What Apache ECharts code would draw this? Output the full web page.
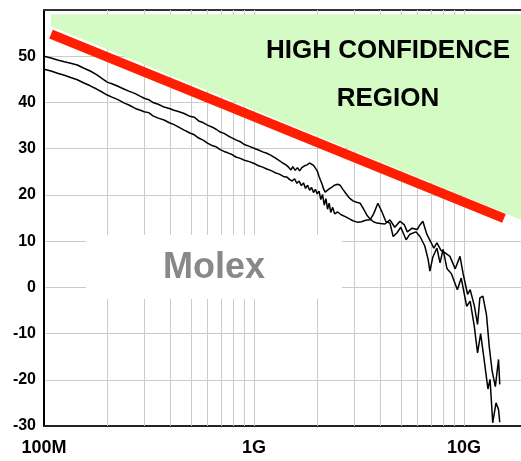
<!DOCTYPE html>
<html>
<head>
<meta charset="utf-8">
<script src="https://cdn.jsdelivr.net/npm/echarts@6/dist/echarts.min.js"></script>
<style>
html,body{margin:0;padding:0;background:#fff;}
#chart{width:521px;height:461px;}
</style>
</head>
<body>
<div id="chart"></div>
<script>
// ---- data ----
const xMin = 1e8;
const xMax = 1.868e10;
const yMin = -30;
const yMax = 60;
const yStep = 10;
const xTickValues = [1e8, 1e9, 1e10];
const xTickLabels = ['100M', '1G', '10G'];
const gridFreqs = [2e8,3e8,4e8,5e8,6e8,7e8,8e8,9e8,1e9,2e9,3e9,4e9,5e9,6e9,7e9,8e9,9e9,1e10];

const freqA = [1.00e8,1.08e8,1.16e8,1.25e8,1.34e8,1.44e8,1.55e8,1.66e8,1.78e8,1.90e8,2.00e8,2.12e8,2.25e8,2.40e8,2.55e8,2.72e8,2.88e8,3.00e8,3.15e8,3.30e8,3.50e8,3.73e8,3.95e8,4.16e8,4.40e8,4.65e8,4.95e8,5.20e8,5.45e8,5.75e8,6.00e8,6.30e8,6.60e8,6.90e8,7.20e8,7.50e8,7.80e8,8.20e8,8.60e8,9.00e8,9.50e8,1.00e9,1.05e9,1.10e9,1.15e9,1.20e9,1.26e9,1.32e9,1.37e9,1.42e9,1.46e9,1.50e9,1.53e9,1.57e9,1.61e9,1.65e9,1.69e9,1.74e9,1.79e9,1.84e9,1.88e9,1.92e9,1.96e9,2.00e9,2.04e9,2.08e9,2.11e9,2.14e9,2.18e9,2.22e9,2.28e9,2.35e9,2.42e9,2.50e9,2.57e9,2.65e9,2.75e9,2.85e9,2.96e9,3.08e9,3.20e9,3.32e9,3.45e9,3.57e9,3.70e9,3.85e9,4.00e9,4.20e9,4.44e9,4.68e9,4.96e9,5.20e9,5.37e9,5.66e9,5.98e9,6.17e9,6.37e9,6.65e9,6.95e9,7.18e9,7.43e9,7.77e9,8.10e9,8.57e9,9.08e9,9.57e9,9.90e9,1.04e10,1.07e10,1.12e10,1.16e10,1.19e10,1.23e10,1.28e10,1.32e10,1.36e10,1.41e10,1.46e10,1.48e10];
const dbA = [50.0,49.6,49.2,48.8,48.5,48.1,47.4,46.8,46.0,45.1,44.4,44.0,43.5,42.9,42.4,41.9,41.3,40.9,40.6,40.0,39.6,39.0,38.7,38.3,38.0,37.6,37.0,36.8,36.0,35.6,35.1,34.7,34.2,33.6,33.3,32.8,32.4,31.9,31.5,30.9,30.5,30.1,29.7,29.3,29.0,28.6,28.0,27.4,26.9,26.5,26.0,25.4,26.1,25.3,25.9,25.2,25.9,26.3,26.5,26.9,26.7,26.4,25.8,25.2,24.0,23.0,22.3,21.4,20.6,21.0,21.3,21.7,22.1,22.3,22.1,21.2,20.2,19.3,18.7,18.4,18.2,17.0,15.6,14.8,14.2,13.9,13.8,13.7,14.6,13.0,14.3,13.5,12.0,12.8,12.5,13.5,14.3,11.5,9.8,8.5,9.6,8.0,7.5,6.7,4.0,6.7,3.0,-1.5,-0.5,-4.0,-8.0,-2.3,-1.9,-6.0,-13.0,-18.0,-21.5,-15.6,-21.0];

const freqB = [1.00e8,1.08e8,1.16e8,1.25e8,1.34e8,1.44e8,1.55e8,1.66e8,1.78e8,1.90e8,2.00e8,2.12e8,2.25e8,2.40e8,2.55e8,2.72e8,2.88e8,3.00e8,3.15e8,3.30e8,3.50e8,3.73e8,3.95e8,4.16e8,4.40e8,4.65e8,4.95e8,5.20e8,5.45e8,5.75e8,6.00e8,6.30e8,6.60e8,6.90e8,7.20e8,7.50e8,7.80e8,8.20e8,8.60e8,9.00e8,9.50e8,1.00e9,1.05e9,1.10e9,1.15e9,1.20e9,1.26e9,1.32e9,1.38e9,1.44e9,1.48e9,1.52e9,1.56e9,1.60e9,1.64e9,1.68e9,1.72e9,1.76e9,1.80e9,1.84e9,1.88e9,1.92e9,1.96e9,2.00e9,2.04e9,2.08e9,2.12e9,2.16e9,2.20e9,2.24e9,2.28e9,2.32e9,2.37e9,2.42e9,2.50e9,2.60e9,2.72e9,2.85e9,2.96e9,3.10e9,3.25e9,3.40e9,3.57e9,3.72e9,3.89e9,4.05e9,4.25e9,4.44e9,4.60e9,4.80e9,5.00e9,5.30e9,5.53e9,5.90e9,6.17e9,6.50e9,6.75e9,6.88e9,7.10e9,7.43e9,7.69e9,7.95e9,8.30e9,8.70e9,9.30e9,9.70e9,1.03e10,1.07e10,1.12e10,1.16e10,1.20e10,1.25e10,1.30e10,1.33e10,1.37e10,1.42e10,1.46e10,1.48e10];
const dbB = [47.2,46.8,46.3,45.9,45.4,44.9,44.2,43.6,42.9,42.2,41.6,41.1,40.6,39.9,39.4,38.7,38.3,38.0,37.8,37.1,36.6,36.2,35.6,35.2,34.6,34.0,33.4,33.0,32.3,31.8,31.2,30.7,30.4,29.8,29.4,29.1,28.8,28.2,27.9,27.5,27.2,26.8,26.3,26.0,25.6,25.3,24.8,24.5,24.0,23.8,23.3,23.0,23.5,22.5,23.0,22.0,22.6,21.4,22.1,21.0,21.6,20.5,21.2,20.2,20.8,19.0,20.1,17.8,19.2,16.9,18.2,16.2,17.3,15.9,16.3,15.7,15.3,14.8,14.4,14.1,14.2,14.5,14.6,16.0,18.2,16.5,14.2,13.9,11.0,11.8,13.0,10.3,11.5,12.0,11.0,9.0,6.0,3.5,6.5,8.5,5.3,8.2,4.0,3.0,-0.5,2.0,-4.1,-3.0,-8.5,-14.2,-10.0,-16.0,-22.0,-19.9,-29.3,-25.0,-26.4,-29.2];

const limitFreq = [1.08e8, 1.55e10];
const limitDb = [54.8, 14.9];
const regionFreq = [1.08e8, 1.868e10];
const regionDb = [56.5, 14.6];
const regionTop = 59.1;

// ---- chart ----
const zip = (xs, ys) => xs.map((x, i) => [x, ys[i]]);
const FONT = '"Liberation Sans", Arial, sans-serif';
const chart = echarts.init(document.getElementById('chart'), null, {renderer: 'canvas'});

chart.setOption({
  animation: false,
  backgroundColor: '#ffffff',
  grid: {left: 44, right: 0, top: 10, bottom: 35, containLabel: false},
  xAxis: [{
    type: 'log', logBase: 10, min: xMin, max: xMax, position: 'bottom',
    axisLine: {show: true, onZero: false, lineStyle: {color: '#222', width: 2}},
    axisTick: {show: false},
    splitLine: {show: false},
    axisLabel: {
      show: true, margin: 13, showMaxLabel: false,
      fontFamily: FONT, fontWeight: 'bold', fontSize: 18, color: '#000',
      formatter: function (v) {
        const e = Math.round(Math.log10(v));
        const i = xTickValues.findIndex(t => Math.round(Math.log10(t)) === e && Math.abs(Math.log10(v) - e) < 1e-6);
        return i >= 0 ? xTickLabels[i] : '';
      }
    }
  }, {
    type: 'log', logBase: 10, min: xMin, max: xMax, position: 'top',
    axisLine: {show: true, onZero: false, lineStyle: {color: '#333', width: 2}},
    axisTick: {show: false}, axisLabel: {show: false}, splitLine: {show: false}
  }],
  yAxis: {
    type: 'value', min: yMin, max: yMax, interval: yStep,
    axisLine: {show: true, onZero: false, lineStyle: {color: '#000', width: 2}},
    axisTick: {show: false},
    splitLine: {show: true, lineStyle: {color: '#cbcbcb', width: 1}},
    axisLabel: {
      margin: 8, showMaxLabel: false,
      fontFamily: FONT, fontWeight: 'bold', fontSize: 16, color: '#000'
    }
  },
  series: [
    {
      type: 'line', name: 'grid', data: [], silent: true, z: 1,
      markLine: {
        silent: true, symbol: 'none', z: 1, animation: false,
        label: {show: false},
        lineStyle: {color: '#cbcbcb', width: 1, type: 'solid'},
        emphasis: {disabled: true},
        data: gridFreqs.map(f => ({xAxis: f}))
      }
    },
    {
      type: 'line', name: 'region', data: zip(regionFreq, regionDb), z: 2,
      showSymbol: false, silent: true,
      lineStyle: {width: 0, color: '#d3fbc3'},
      areaStyle: {color: '#d3fbc3', opacity: 1, origin: regionTop}
    },
    {
      type: 'line', name: 'limit', data: zip(limitFreq, limitDb), z: 3,
      showSymbol: false, silent: true,
      lineStyle: {width: 9.5, color: '#ff1e00', cap: 'butt'}
    },
    {
      type: 'line', name: 'A', data: zip(freqA, dbA), z: 4,
      showSymbol: false, silent: true,
      lineStyle: {width: 1.5, color: '#000'}
    },
    {
      type: 'line', name: 'B', data: zip(freqB, dbB), z: 4,
      showSymbol: false, silent: true,
      lineStyle: {width: 1.5, color: '#000'}
    }
  ],
  graphic: [
    {type: 'rect', z: 10, silent: true, shape: {x: 86, y: 235, width: 256, height: 64}, style: {fill: '#ffffff'}},
    {type: 'text', z: 11, silent: true, x: 214, y: 268,
      style: {text: 'Molex', fill: '#888888', font: 'bold 36px ' + FONT, textAlign: 'center', textVerticalAlign: 'middle'}},
    {type: 'text', z: 11, silent: true, x: 388, y: 51,
      style: {text: 'HIGH CONFIDENCE', fill: '#000', font: 'bold 26px ' + FONT, textAlign: 'center', textVerticalAlign: 'middle'}},
    {type: 'text', z: 11, silent: true, x: 388, y: 99,
      style: {text: 'REGION', fill: '#000', font: 'bold 26px ' + FONT, textAlign: 'center', textVerticalAlign: 'middle'}}
  ]
});
</script>
</body>
</html>
